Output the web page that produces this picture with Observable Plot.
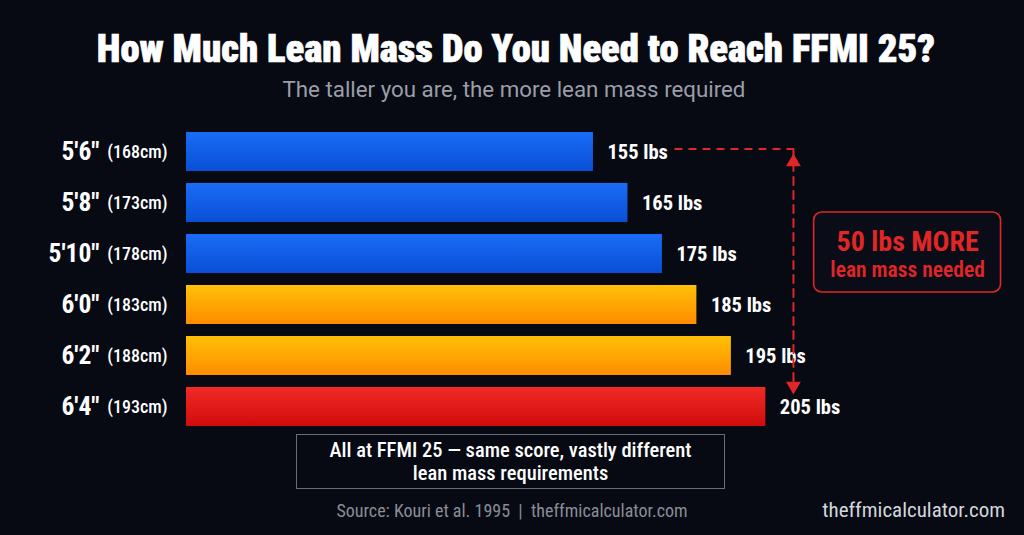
<!DOCTYPE html>
<html><head><meta charset="utf-8">
<script src="https://cdn.jsdelivr.net/npm/d3@7"></script>
<script src="https://cdn.jsdelivr.net/npm/@observablehq/plot@0.6"></script>
<style>
html,body{margin:0;padding:0;background:#070a13;}
#wrap{position:relative;width:1024px;height:535px;overflow:hidden;background:#070a13;
  font-family:"Roboto Condensed","Liberation Sans Narrow","DejaVu Sans Condensed",sans-serif;}
#title{position:absolute;top:25px;left:0;width:1032px;text-align:center;color:#fff;font-weight:900;font-size:38.7px;line-height:48px;
  -webkit-text-stroke:0.7px #fff;}
#subtitle{position:absolute;top:75px;left:0;width:1028px;text-align:center;color:#9b9ea8;font-family:Roboto,"Noto Sans",sans-serif;font-size:22.3px;line-height:28px;}
#chart{position:absolute;top:110px;left:0;}
#note{position:absolute;top:434px;left:296px;width:429px;height:55px;border:1px solid #6a6d76;box-sizing:border-box;
  color:#fff;font-size:20.5px;font-weight:500;line-height:23px;text-align:center;padding-top:4px;}
#source{position:absolute;top:501px;left:0;width:1024px;text-align:center;color:#8a8d96;font-size:18px;line-height:20px;}
#mark{position:absolute;top:498px;right:19px;color:#d4d6dc;font-size:21px;line-height:24px;}
</style>
</head><body>
<div id="wrap">
  <div id="title">How Much Lean Mass Do You Need to Reach FFMI 25?</div>
  <div id="subtitle">The taller you are, the more lean mass required</div>
  <div id="chart"></div>
  <div id="note">All at FFMI 25 — same score, vastly different<br>lean mass requirements</div>
  <div id="source">Source: Kouri et al. 1995 &nbsp;|&nbsp; theffmicalculator.com</div>
  <div id="mark">theffmicalculator.com</div>
</div>
<script>
const heights = ["5'6\"", "5'8\"", "5'10\"", "6'0\"", "6'2\"", "6'4\""];
const cms = ["(168cm)", "(173cm)", "(178cm)", "(183cm)", "(188cm)", "(193cm)"];
const leanMass = [155, 165, 175, 185, 195, 205];
const tiers = ["blue", "blue", "blue", "orange", "orange", "red"];

const data = heights.map((h, i) => ({h, cm: cms[i], v: leanMass[i], fill: `url(#grad-${tiers[i]})`}));
const xMin = 37, xMax = 280;
const maxV = d3.max(leanMass), minV = d3.min(leanMass);
const arrowX = maxV + 8;
const red = "#e02626";
const font = '"Roboto Condensed","Liberation Sans Narrow","DejaVu Sans Condensed",sans-serif';

const chart = Plot.plot({
  width: 1024, height: 330,
  marginTop: 10, marginBottom: 2, marginLeft: 186, marginRight: 0,
  x: {domain: [xMin, xMax], axis: null},
  y: {domain: heights, padding: 0.235, axis: null},
  color: {type: "identity"},
  style: {background: "transparent", overflow: "visible", fontFamily: font},
  marks: [
    Plot.barX(data, {x1: () => xMin, x2: "v", y: "h", fill: "fill"}),
    Plot.text(data, {x: "v", y: "h", text: d => `${d.v} lbs`, textAnchor: "start", dx: 14, fill: "#fff", fontSize: 20.5, fontWeight: "bold"}),
    Plot.text(data, {frameAnchor: "left", y: "h", text: "h", textAnchor: "end", dx: -87, fill: "#fff", fontSize: 25.5, fontWeight: "bold"}),
    Plot.text(data, {frameAnchor: "left", y: "h", text: "cm", textAnchor: "end", dx: -19, fill: "#fff", fontSize: 18, fontWeight: 500}),
    // horizontal dashed leader from the shortest bar
    Plot.link([0], {x1: minV + 23.5, x2: arrowX, y1: () => heights[0], y2: () => heights[0], dy: -3,
      stroke: red, strokeWidth: 2, strokeDasharray: "8,6"}),
    // vertical dashed span
    Plot.arrow([0], {x1: arrowX, x2: arrowX, y1: () => heights[0], y2: () => heights[heights.length - 1],
      dy: -3, headLength: 0, insetEnd: 14, stroke: red, strokeWidth: 2, strokeDasharray: "8,6"}),
    Plot.dot([0], {x: arrowX, y: () => heights[0], dy: 10, symbol: "triangle", r: 5.5, fill: red, stroke: "none"}),
    Plot.dot([0], {x: arrowX, y: () => heights[heights.length - 1], dy: -21, symbol: "triangle", r: 5.5, rotate: 180, fill: red, stroke: "none"}),
    // callout box
    Plot.barX([0], {x1: arrowX + 6, x2: arrowX + 60.2, y: () => heights[2], insetTop: -22, insetBottom: -19, rx: 8,
      fill: "#0a0d17", stroke: red, strokeWidth: 1.6}),
    Plot.text([0], {x: arrowX + 33.1, y: () => heights[2], dy: -12, text: () => `${maxV - minV} lbs MORE`,
      fill: red, fontSize: 28, fontWeight: "bold"}),
    Plot.text([0], {x: arrowX + 33.1, y: () => heights[2], dy: 16, text: () => "lean mass needed",
      fill: red, fontSize: 21.5, fontWeight: 600})
  ]
});

const svg = d3.select(chart);
const defs = svg.insert("defs", ":first-child");
const grads = {blue: ["#1a6cf6", "#0a4fd6"], orange: ["#ffc107", "#ff8c00"], red: ["#f22a26", "#d00c0c"]};
for (const [k, [c0, c1]] of Object.entries(grads)) {
  const g = defs.append("linearGradient").attr("id", `grad-${k}`).attr("x1", 0).attr("x2", 0).attr("y1", 0).attr("y2", 1);
  g.append("stop").attr("offset", "0%").attr("stop-color", c0);
  g.append("stop").attr("offset", "100%").attr("stop-color", c1);
}
document.getElementById("chart").appendChild(chart);
</script>
</body></html>
